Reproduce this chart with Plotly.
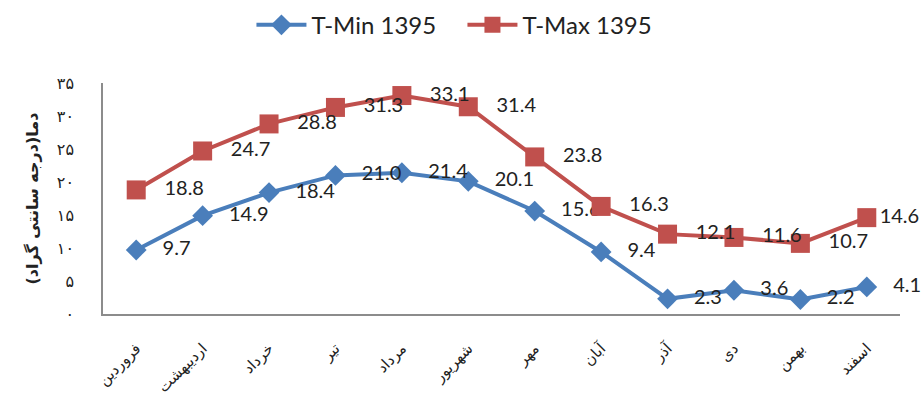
import plotly.graph_objects as go

# Persian month names (1395)
months = ["فروردین", "اردیبهشت", "خرداد", "تیر", "مرداد", "شهریور",
          "مهر", "آبان", "آذر", "دی", "بهمن", "اسفند"]

# Monthly minimum / maximum temperatures (°C)
t_min = [9.7, 14.9, 18.4, 21.0, 21.4, 20.1, 15.6, 9.4, 2.3, 3.6, 2.2, 4.1]
t_max = [18.8, 24.7, 28.8, 31.3, 33.1, 31.4, 23.8, 16.3, 12.1, 11.6, 10.7, 14.6]

# Y-axis ticks with Persian digits
y_ticks = [0, 5, 10, 15, 20, 25, 30, 35]
y_tick_text = ["۰", "۵", "۱۰", "۱۵", "۲۰", "۲۵", "۳۰", "۳۵"]

blue = "#4A7EBB"
red = "#C0504D"
label_font = dict(family="Lato, Carlito, sans-serif", size=20, color="#222222")
pad = "\u00a0\u00a0\u00a0"

# value labels sit to the right of each point; the last max label hugs its marker
min_labels = [pad + "%{y:.1f}"] * len(t_min)
max_labels = [pad + "%{y:.1f}"] * (len(t_max) - 1) + ["%{y:.1f}"]

fig = go.Figure()
fig.add_trace(go.Scatter(
    x=months, y=t_min, name="T-Min 1395", mode="lines+markers+text",
    line=dict(color=blue, width=4),
    marker=dict(symbol="diamond", size=16, color=blue),
    texttemplate=min_labels, textposition="middle right",
    textfont=label_font, cliponaxis=False,
))
fig.add_trace(go.Scatter(
    x=months, y=t_max, name="T-Max 1395", mode="lines+markers+text",
    line=dict(color=red, width=4),
    marker=dict(symbol="square", size=19, color=red),
    texttemplate=max_labels, textposition="middle right",
    textfont=label_font, cliponaxis=False,
))

fig.update_layout(
    width=921, height=400,
    margin=dict(l=103, r=21, t=83, b=86, autoexpand=False),
    paper_bgcolor="white", plot_bgcolor="white",
    showlegend=True,
    legend=dict(orientation="h", x=0.451, xanchor="center", y=1.25, yanchor="middle",
                font=dict(family="Lato, Carlito, sans-serif", size=24, color="#222222"),
                itemwidth=50, entrywidth=146, entrywidthmode="pixels", tracegroupgap=0),
    xaxis=dict(
        type="category", range=[-0.5, 11.5], showgrid=False,
        showline=True, linecolor="#8c8c8c", linewidth=1.5,
        tickangle=-45, ticks="", ticklabelstandoff=18,
        tickfont=dict(family="DejaVu Sans", size=15, color="#222222"),
        automargin=False,
    ),
    yaxis=dict(
        range=[0, 35], showgrid=False, zeroline=False,
        showline=True, linecolor="#8c8c8c", linewidth=1.5,
        tickvals=y_ticks, ticktext=y_tick_text, ticks="", ticklabelstandoff=24,
        tickfont=dict(family="DejaVu Sans", size=16, color="#222222"),
        automargin=False,
    ),
    annotations=[dict(
        text="<b>دما(درجه سانتی گراد)</b>", textangle=-90,
        xref="paper", yref="paper", x=-0.089, y=0.5,
        xanchor="center", yanchor="middle", showarrow=False,
        font=dict(family="DejaVu Sans", size=16, color="#222222"),
    )],
)

fig.write_html("out.html")
